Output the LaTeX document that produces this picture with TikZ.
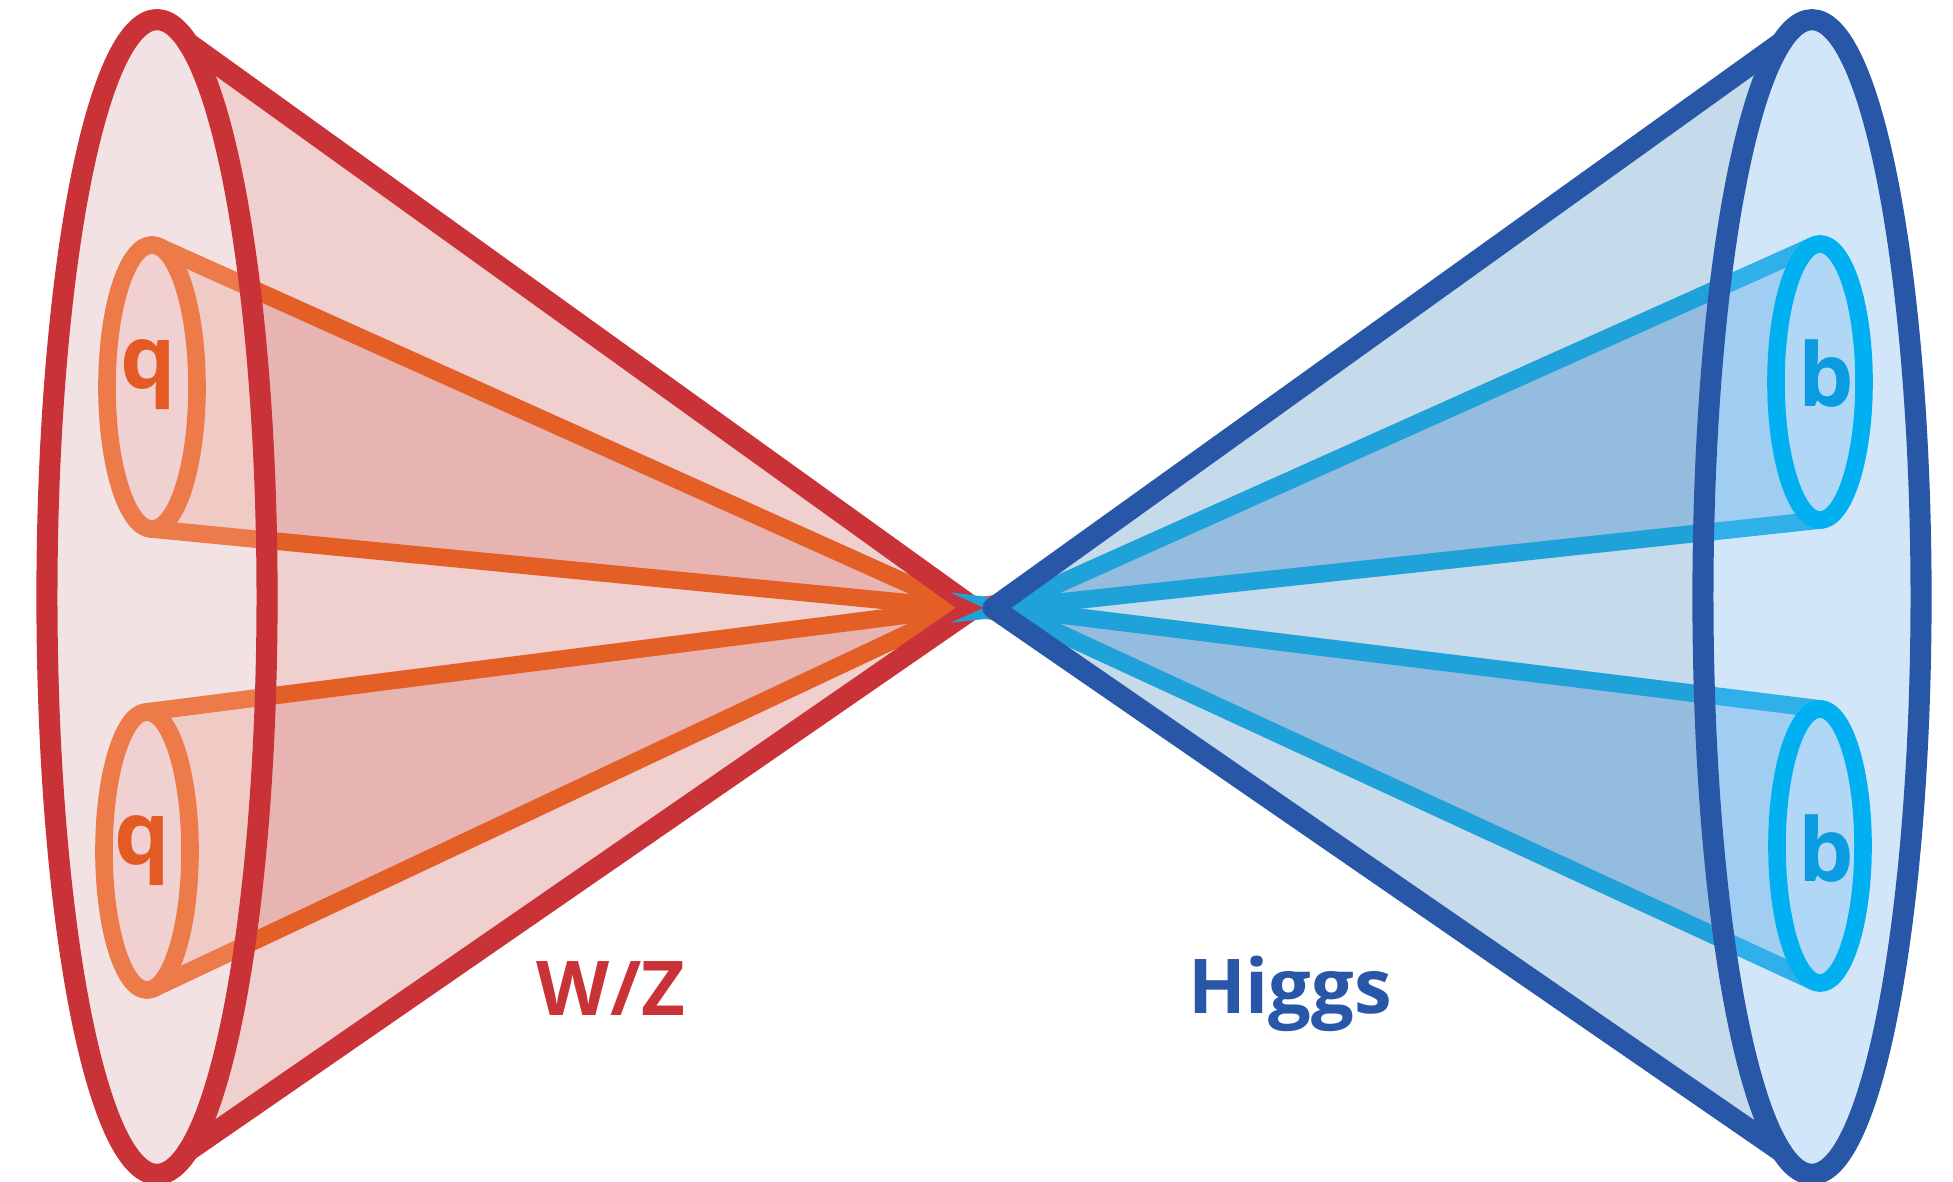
\documentclass[tikz,border=0pt]{standalone}
\usepackage{fontspec}
\setmainfont{Open Sans}
\definecolor{wzRed}{HTML}{C93237}
\definecolor{wzFace}{HTML}{F2E2E3}
\definecolor{wzBody}{HTML}{F0CFCF}
\definecolor{qBody}{HTML}{E8B4B2}
\definecolor{qBodyIn}{HTML}{F0CAC5}
\definecolor{qFace}{HTML}{F0D0D0}
\definecolor{qDark}{HTML}{E45F26}
\definecolor{qLight}{HTML}{ED7B49}
\definecolor{qText}{HTML}{E35A24}
\definecolor{hBlue}{HTML}{2957A8}
\definecolor{hFace}{HTML}{D2E6F9}
\definecolor{hBody}{HTML}{C5DAEA}
\definecolor{bBody}{HTML}{94BCDE}
\definecolor{bBodyIn}{HTML}{9FCEF2}
\definecolor{bFace}{HTML}{B0D8F6}
\definecolor{bDark}{HTML}{1FA2DA}
\definecolor{bLight}{HTML}{2FB0EA}
\definecolor{bRimCol}{HTML}{00B0F0}
\definecolor{bText}{HTML}{0A9BE0}
\begin{document}
\begin{tikzpicture}[x=0.01cm,y=-0.01cm,
  bigrim/.style={line width=6pt,line join=round,line cap=round},
  smallrim/.style={line width=5pt,line join=round,line cap=round},
  jetline/.style={line width=5pt,line cap=round},
  lbl/.style={font=\fontsize{21.5}{24}\selectfont\bfseries,inner sep=0pt,anchor=base},
  letter/.style={font=\fontsize{25}{28}\selectfont\bfseries,inner sep=0pt,anchor=base}]
\useasboundingbox (0,0) rectangle (1953,1182);

% ---------------- W/Z cone (left) ----------------
\coordinate (aL) at (974,608);   % tip of the wide cone
\coordinate (jL) at (962,608);   % tip of the two narrow cones
\coordinate (cL) at (157,597);
\coordinate (tL) at (188,43);
\coordinate (bL) at (188,1151);
\coordinate (c1L) at (152,387);
\coordinate (q1t) at (158.2,246.4);
\coordinate (q1b) at (150.6,528.9);
\coordinate (c2L) at (147,851);
\coordinate (q2t) at (145.3,712.1);
\coordinate (q2b) at (153.1,988.6);

\fill[wzBody] (aL) -- (tL) -- (bL) -- cycle;
\fill[qBody] (jL) -- (q1t) -- (q1b) -- cycle;
\fill[qBody] (jL) -- (q2t) -- (q2b) -- cycle;
\draw[qDark,jetline] (q1t) -- (jL) -- (q1b);
\draw[qDark,jetline] (q2t) -- (jL) -- (q2b);
\begin{scope}
  \clip (cL) ellipse [x radius=1.10cm, y radius=5.77cm];
  \fill[wzFace] (cL) ellipse [x radius=1.10cm, y radius=5.77cm];
  \fill[qBodyIn] (jL) -- (q1t) -- (q1b) -- cycle;
  \fill[qBodyIn] (jL) -- (q2t) -- (q2b) -- cycle;
  \draw[qLight,jetline] (q1t) -- (jL) -- (q1b);
  \draw[qLight,jetline] (q2t) -- (jL) -- (q2b);
\end{scope}
\filldraw[fill=qFace,draw=qLight,smallrim] (c1L) ellipse [x radius=0.45cm, y radius=1.42cm];
\filldraw[fill=qFace,draw=qLight,smallrim] (c2L) ellipse [x radius=0.43cm, y radius=1.39cm];
\draw[wzRed,bigrim] (cL) ellipse [x radius=1.10cm, y radius=5.77cm];
\draw[wzRed,bigrim] (tL) -- (aL) -- (bL);

\node[letter,text=qText] (q1) at (148,389) {q};
\node[letter,text=qText] (q2) at (142,864) {q};
\node[lbl,text=wzRed] (wz) at (611,1015) {W/Z};

% ---------------- Higgs cone (right) ----------------
\coordinate (aR) at (993,608);   % tip of the wide cone
\coordinate (jR) at (1005,608);  % tip of the two narrow cones
\coordinate (cR) at (1812,597);
\coordinate (tR) at (1782,42);
\coordinate (bR) at (1782,1152);
\coordinate (c1R) at (1820,382);
\coordinate (b1t) at (1813.9,245.4);
\coordinate (b1b) at (1821.5,519.9);
\coordinate (c2R) at (1820,846);
\coordinate (b2t) at (1821.6,709.1);
\coordinate (b2b) at (1813.9,981.6);

\fill[hBody] (aR) -- (tR) -- (bR) -- cycle;
\fill[bBody] (jR) -- (b1t) -- (b1b) -- cycle;
\fill[bBody] (jR) -- (b2t) -- (b2b) -- cycle;
\draw[bDark,jetline] (b1t) -- (jR) -- (b1b);
\draw[bDark,jetline] (b2t) -- (jR) -- (b2b);
\begin{scope}
  \clip (cR) ellipse [x radius=1.09cm, y radius=5.77cm];
  \fill[hFace] (cR) ellipse [x radius=1.09cm, y radius=5.77cm];
  \fill[bBodyIn] (jR) -- (b1t) -- (b1b) -- cycle;
  \fill[bBodyIn] (jR) -- (b2t) -- (b2b) -- cycle;
  \draw[bLight,jetline] (b1t) -- (jR) -- (b1b);
  \draw[bLight,jetline] (b2t) -- (jR) -- (b2b);
\end{scope}
\filldraw[fill=bFace,draw=bRimCol,smallrim] (c1R) ellipse [x radius=0.44cm, y radius=1.38cm];
\filldraw[fill=bFace,draw=bRimCol,smallrim] (c2R) ellipse [x radius=0.43cm, y radius=1.37cm];
\draw[hBlue,bigrim] (cR) ellipse [x radius=1.09cm, y radius=5.77cm];
\draw[hBlue,bigrim] (tR) -- (aR) -- (bR);

\node[letter,text=bText] (b1) at (1826,407) {b};
\node[letter,text=bText] (b2) at (1826,881) {b};
\node[lbl,text=hBlue] (higgs) at (1290,1013) {Higgs};
\end{tikzpicture}
\end{document}
